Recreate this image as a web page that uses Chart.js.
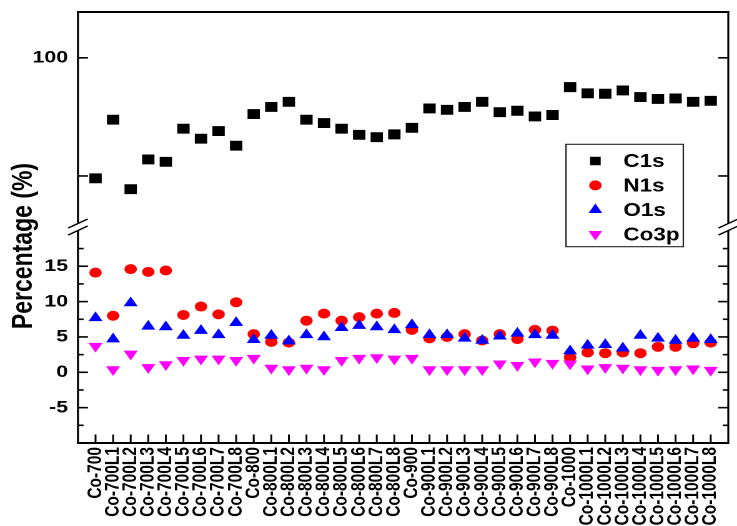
<!DOCTYPE html>
<html>
<head>
<meta charset="utf-8">
<title>Surface composition (XPS)</title>
<style>
  html, body { margin: 0; padding: 0; background: #fff; overflow: hidden; }
  /* the figure is laid out on a 590px canvas and widened to the 737px window */
  #wrap { width: 590px; height: 526px; transform: scaleX(1.2492); transform-origin: 0 0; }
</style>
<script src="https://cdn.jsdelivr.net/npm/chart.js@4/dist/chart.umd.min.js"></script>
</head>
<body>
<div id="wrap"><canvas id="chart" width="590" height="526"></canvas></div>
<script>
// Samples, in order along the x axis
const categories = [
  'Co-700', 'Co-700L1', 'Co-700L2', 'Co-700L3', 'Co-700L4', 'Co-700L5', 'Co-700L6', 'Co-700L7', 'Co-700L8',
  'Co-800', 'Co-800L1', 'Co-800L2', 'Co-800L3', 'Co-800L4', 'Co-800L5', 'Co-800L6', 'Co-800L7', 'Co-800L8',
  'Co-900', 'Co-900L1', 'Co-900L2', 'Co-900L3', 'Co-900L4', 'Co-900L5', 'Co-900L6', 'Co-900L7', 'Co-900L8',
  'Co-1000', 'Co-1000L1', 'Co-1000L2', 'Co-1000L3', 'Co-1000L4', 'Co-1000L5', 'Co-1000L6', 'Co-1000L7', 'Co-1000L8'
];

// Atomic percentages per element
const c1s = [74.5, 86.9, 72.2, 78.5, 78.0, 85.0, 82.9, 84.5, 81.4,
             88.1, 89.6, 90.7, 86.9, 86.2, 85.0, 83.7, 83.2, 83.8,
             85.2, 89.3, 89.0, 89.6, 90.7, 88.5, 88.8, 87.6, 87.9,
             93.8, 92.5, 92.4, 93.1, 91.7, 91.3, 91.4, 90.7, 90.9];
const n1s = [14.1, 8.0, 14.6, 14.2, 14.4, 8.1, 9.3, 8.2, 9.9,
             5.4, 4.3, 4.2, 7.3, 8.3, 7.3, 7.8, 8.3, 8.4,
             6.0, 4.8, 5.0, 5.4, 4.5, 5.4, 4.7, 6.0, 5.9,
             2.1, 2.8, 2.7, 2.8, 2.7, 3.6, 3.6, 4.1, 4.2];
const o1s = [7.7, 4.7, 9.8, 6.5, 6.4, 5.2, 5.9, 5.3, 7.0,
             4.6, 5.2, 4.4, 5.3, 5.0, 6.3, 6.6, 6.4, 6.0,
             6.7, 5.3, 5.3, 4.8, 4.5, 5.1, 5.5, 5.3, 5.2,
             3.0, 3.8, 3.9, 3.4, 5.2, 4.8, 4.5, 4.8, 4.6];
const co3p = [3.7, 0.4, 2.6, 0.7, 1.1, 1.7, 1.9, 1.9, 1.7,
              2.0, 0.6, 0.4, 0.6, 0.4, 1.7, 2.0, 2.1, 1.9,
              2.0, 0.4, 0.4, 0.4, 0.4, 1.2, 1.0, 1.5, 1.3,
              1.2, 0.5, 0.7, 0.6, 0.4, 0.3, 0.4, 0.5, 0.3];

// Broken y axis: upper segment (C1s) and lower segment (N1s, O1s, Co3p)
const upperRange = [64.2, 109.7];
const lowerRange = [-10, 20.55];
const upperTickValues = [75, 100];
const upperTickLabels = ['', '100'];
const lowerTickValues = [-7.5, -5, -2.5, 0, 2.5, 5, 7.5, 10, 12.5, 15, 17.5];
const lowerTickLabels = ['', '-5', '', '0', '', '5', '', '10', '', '15', ''];
const yTitle = 'Percentage (%)';

const FONT = '"Liberation Sans", Arial, Helvetica, sans-serif';

const toPoints = arr => arr.map((v, i) => ({ x: i + 1, y: v }));

function strokeLine(ctx, x1, y1, x2, y2) {
  ctx.beginPath();
  ctx.moveTo(x1, y1);
  ctx.lineTo(x2, y2);
  ctx.stroke();
}

// Frame with axis break, and inward tick marks on left, right and bottom
const axisFrame = {
  id: 'axisFrame',
  afterDatasetsDraw(chart) {
    const { ctx, chartArea: a, scales } = chart;
    const yb = scales.yTop.bottom;
    ctx.save();
    ctx.strokeStyle = '#000';
    ctx.lineCap = 'butt';

    ctx.lineWidth = 1.6;
    const segs = [['yTop', () => true], ['yBot', v => v % 5 === 0]];
    for (const [id, isMajor] of segs) {
      const s = scales[id];
      for (const t of s.ticks) {
        const y = s.getPixelForValue(t.value);
        const len = isMajor(t.value) ? 8 : 4.5;
        strokeLine(ctx, a.left, y, a.left + len, y);
        strokeLine(ctx, a.right, y, a.right - len, y);
      }
    }

    ctx.lineWidth = 1.5;
    for (const t of scales.x.ticks) {
      const x = scales.x.getPixelForValue(t.value);
      strokeLine(ctx, x, a.bottom, x, a.bottom - 8.5);
    }

    ctx.lineWidth = 2;
    strokeLine(ctx, a.left - 0.8, a.top, a.right + 0.8, a.top);
    strokeLine(ctx, a.left - 0.8, a.bottom, a.right + 0.8, a.bottom);

    ctx.lineWidth = 1.6;
    for (const x of [a.left, a.right]) {
      strokeLine(ctx, x, a.top, x, yb - 3.5);
      strokeLine(ctx, x, yb + 3.5, x, a.bottom);
    }

    // break marks
    ctx.lineWidth = 1.3;
    for (const x of [a.left, a.right]) {
      for (const dy of [-3.5, 3.5]) {
        strokeLine(ctx, x - 7.8, yb + dy + 4.5, x + 7.8, yb + dy - 4.5);
      }
    }
    ctx.restore();
  }
};

// Axis title and boxed legend inside the plot
const annotations = {
  id: 'annotations',
  afterDraw(chart) {
    const { ctx } = chart;
    ctx.save();
    ctx.fillStyle = '#000';
    ctx.font = 'bold 23px ' + FONT;
    ctx.textAlign = 'center';
    ctx.textBaseline = 'alphabetic';
    ctx.translate(25.5, 246);
    ctx.rotate(-Math.PI / 2);
    ctx.fillText(yTitle, 0, 0);
    ctx.restore();

    const box = { left: 453.1, top: 144.3, right: 547, bottom: 246.7 };
    ctx.save();
    ctx.fillStyle = '#fff';
    ctx.fillRect(box.left, box.top, box.right - box.left, box.bottom - box.top);
    ctx.strokeStyle = '#222';
    ctx.lineWidth = 1.1;
    ctx.strokeRect(box.left, box.top, box.right - box.left, box.bottom - box.top);
    ctx.font = 'bold 18px ' + FONT;
    ctx.textAlign = 'left';
    ctx.textBaseline = 'alphabetic';
    chart.data.datasets.forEach((ds, i) => {
      const cy = 161 + 24.4 * i;
      ctx.fillStyle = ds.backgroundColor;
      Chart.helpers.drawPoint(ctx, {
        pointStyle: ds.pointStyle,
        rotation: ds.rotation || 0,
        radius: ds.legendRadius,
        borderWidth: 0
      }, 476.6, cy);
      ctx.fillStyle = '#000';
      ctx.fillText(ds.label, 499, cy + 6.2);
    });
    ctx.restore();
  }
};

new Chart(document.getElementById('chart'), {
  type: 'scatter',
  data: {
    datasets: [
      { label: 'C1s', data: toPoints(c1s), yAxisID: 'yTop', pointStyle: 'rect',
        backgroundColor: '#000000', borderWidth: 0, pointRadius: 7, legendRadius: 6, order: 4 },
      { label: 'N1s', data: toPoints(n1s), yAxisID: 'yBot', pointStyle: 'circle',
        backgroundColor: '#ff0000', borderWidth: 0, pointRadius: 5, legendRadius: 5, order: 3 },
      { label: 'O1s', data: toPoints(o1s), yAxisID: 'yBot', pointStyle: 'triangle',
        backgroundColor: '#0000ff', borderWidth: 0, pointRadius: 6.5, legendRadius: 6.3, order: 2 },
      { label: 'Co3p', data: toPoints(co3p), yAxisID: 'yBot', pointStyle: 'triangle', rotation: 180,
        backgroundColor: '#ff00ff', borderWidth: 0, pointRadius: 6.5, legendRadius: 6.3, order: 1 }
    ]
  },
  options: {
    responsive: false,
    devicePixelRatio: 2,
    animation: false,
    events: [],
    layout: { padding: { left: 0, right: 1.2, top: 12, bottom: 0 } },
    plugins: { legend: { display: false }, tooltip: { enabled: false } },
    elements: { point: { hoverRadius: 0 } },
    scales: {
      x: {
        type: 'linear',
        position: 'bottom',
        min: 0,
        max: categories.length + 1,
        grid: { display: false, drawTicks: false },
        border: { display: false },
        afterBuildTicks: s => { s.ticks = categories.map((_, i) => ({ value: i + 1 })); },
        afterFit: s => { s.height = 83; s.paddingLeft = 0; s.paddingRight = 0; },
        ticks: {
          autoSkip: false,
          minRotation: 90,
          maxRotation: 90,
          padding: 4,
          color: '#000',
          font: { family: FONT, size: 15.5, weight: 'bold' },
          callback: (v, i) => categories[i]
        }
      },
      yBot: {
        type: 'linear',
        position: 'left',
        stack: 'percent',
        stackWeight: 216,
        weight: 0,
        min: lowerRange[0],
        max: lowerRange[1],
        grid: { display: false, drawTicks: false },
        border: { display: false },
        afterBuildTicks: s => { s.ticks = lowerTickValues.map(v => ({ value: v })); },
        afterFit: s => { s.width = 62.4; s.paddingTop = 0; s.paddingBottom = 0; },
        ticks: {
          autoSkip: false,
          padding: 8,
          color: '#000',
          font: { family: FONT, size: 17, weight: 'bold' },
          callback: (v, i) => lowerTickLabels[i]
        }
      },
      yTop: {
        type: 'linear',
        position: 'left',
        stack: 'percent',
        stackWeight: 215,
        weight: 1,
        min: upperRange[0],
        max: upperRange[1],
        grid: { display: false, drawTicks: false },
        border: { display: false },
        afterBuildTicks: s => { s.ticks = upperTickValues.map(v => ({ value: v })); },
        afterFit: s => { s.width = 62.4; s.paddingTop = 0; s.paddingBottom = 0; },
        ticks: {
          autoSkip: false,
          padding: 8,
          color: '#000',
          font: { family: FONT, size: 17, weight: 'bold' },
          callback: (v, i) => upperTickLabels[i]
        }
      }
    }
  },
  plugins: [axisFrame, annotations]
});
</script>
</body>
</html>
